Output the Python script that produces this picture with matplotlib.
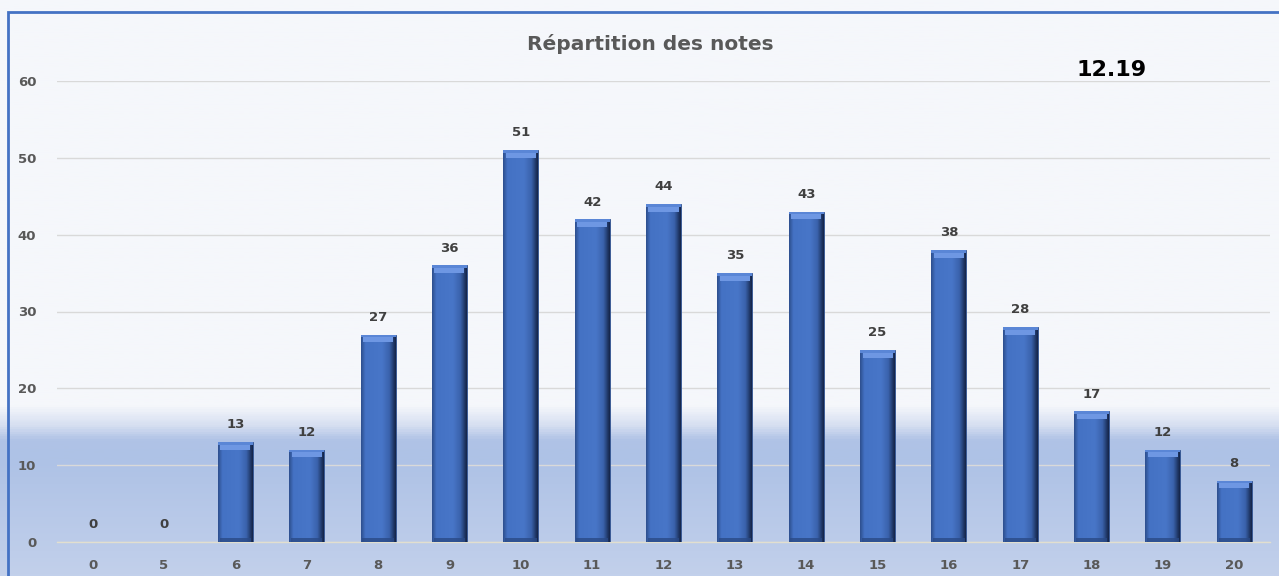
import numpy as np
import matplotlib
matplotlib.use("Agg")
import matplotlib.pyplot as plt
from matplotlib.colors import LinearSegmentedColormap
from matplotlib.patches import Rectangle

categories = ["0", "5", "6", "7", "8", "9", "10", "11", "12", "13", "14", "15", "16", "17", "18", "19", "20"]
counts = [0, 0, 13, 12, 27, 36, 51, 42, 44, 35, 43, 25, 38, 28, 17, 12, 8]
title = "Répartition des notes"
mean_label = "12.19"
y_ticks = [0, 10, 20, 30, 40, 50, 60]

plt.rcParams["font.family"] = ["DejaVu Sans"]

W, H = 1279, 576
fig = plt.figure(figsize=(W / 100, H / 100), dpi=100)
fig.patch.set_facecolor("#F5F7FB")

# background gradient (figure level)
bg = fig.add_axes([0, 0, 1, 1], zorder=-10)
bg.set_axis_off()
yy = np.linspace(0, 1, 600)[:, None]
bg_cmap = LinearSegmentedColormap.from_list(
    "bg", [(0.0, "#C2D0EB"), (0.20, "#AEC2E6"), (0.235, "#B0C3E6"),
           (0.26, "#D6DFF1"), (0.295, "#F5F7FB"), (1.0, "#F5F7FB")])
bg.imshow(yy, cmap=bg_cmap, aspect="auto", origin="lower", extent=[0, 1, 0, 1], vmin=0, vmax=1)
bg.set_xlim(0, 1)
bg.set_ylim(0, 1)

ax = fig.add_axes([57 / W, 1 - 542 / H, (1270 - 57) / W, (542 - 81) / H])
ax.patch.set_alpha(0)
x = np.arange(len(categories))
bw = 0.49
bars = ax.bar(x, counts, width=bw, color="#4472C4", edgecolor="#2F4F8A", linewidth=0.6, zorder=3)

bar_cmap = LinearSegmentedColormap.from_list(
    "bar", [(0.0, "#2E5090"), (0.12, "#4472C4"), (0.6, "#4876C8"), (0.82, "#3A62AC"), (1.0, "#15264A")])
lab_kw = dict(ha="center", va="bottom", fontsize=9.5, fontweight="bold", color="#404040", zorder=5)
for b, v in zip(bars, counts):
    x0, w = b.get_x(), b.get_width()
    if v > 0:
        im = ax.imshow(np.linspace(0, 1, 50)[None, :], cmap=bar_cmap, aspect="auto",
                       extent=[x0, x0 + w, 0, v], zorder=3.5, interpolation="bilinear")
        im.set_clip_path(b)
        # top bevel
        ax.bar(x0 + w / 2, 1.0, bottom=v - 1.0, width=w * 0.86, color="#6E97E3", linewidth=0, zorder=4)
        ax.bar(x0 + w / 2, 0.35, bottom=v - 0.35, width=w, color="#5A86D6", linewidth=0, zorder=4)
        # bottom bevel
        ax.bar(x0 + w / 2, 0.5, bottom=0, width=w * 0.9, color="#2A4A86", linewidth=0, zorder=4, alpha=0.8)
    ax.text(x0 + w / 2, v + 1.4, str(v), **lab_kw)

ax.set_xlim(-0.5, len(categories) - 0.5)
ax.set_ylim(0, 60)
ax.set_yticks(y_ticks)
ax.set_xticks(x)
ax.set_xticklabels(categories)
ax.tick_params(axis="both", length=0, labelsize=9.5, labelcolor="#595959")
ax.tick_params(axis="y", pad=15)
ax.tick_params(axis="x", pad=12)
for lab in ax.get_xticklabels() + ax.get_yticklabels():
    lab.set_fontweight("bold")
ax.grid(axis="y", color="#D9D9D9", linewidth=1, zorder=0)
for s in ["top", "right", "left"]:
    ax.spines[s].set_visible(False)
ax.spines["bottom"].set_color("#E2DFCF")
ax.spines["bottom"].set_linewidth(1)

fig.text(650 / W, 1 - 44 / H, title, ha="center", va="center",
         fontsize=14.5, fontweight="bold", color="#595959")
fig.text(1112 / W, 1 - 70 / H, mean_label, ha="center", va="center",
         fontsize=16, fontweight="bold", color="#000000")

fig.patches.append(Rectangle((8 / W, -0.05), 1.1, 1.05 - 12 / H,
                             transform=fig.transFigure, fill=False,
                             edgecolor="#4472C4", linewidth=2, zorder=20))

fig.savefig("out.png", dpi=100, facecolor=fig.get_facecolor())
